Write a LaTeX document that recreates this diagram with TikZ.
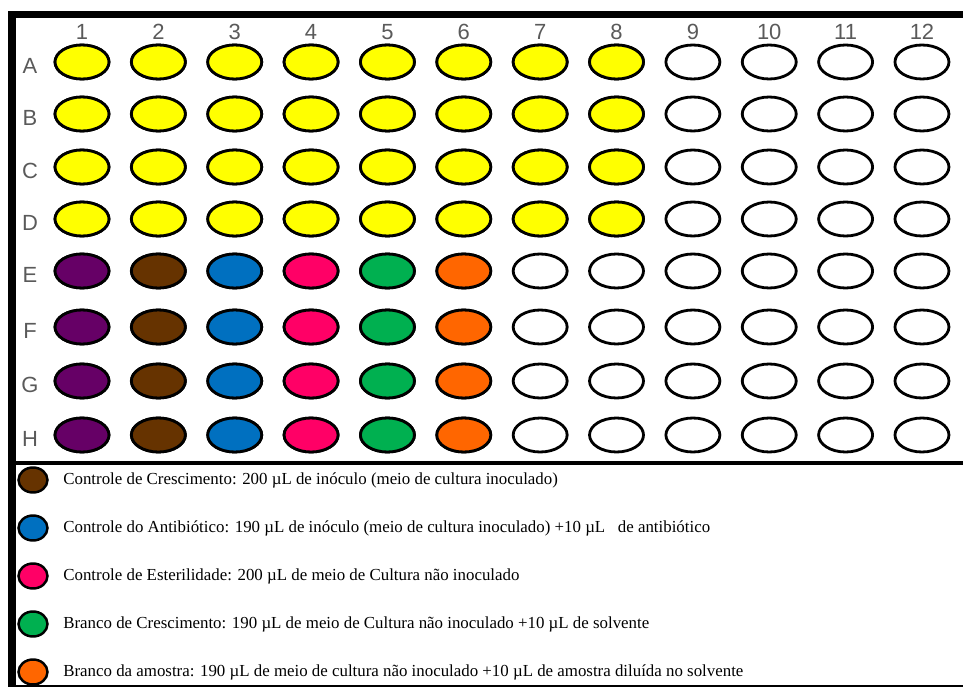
\documentclass[tikz,border=0pt]{standalone}
\usepackage{fontspec}
\setmainfont{Liberation Serif}
\setsansfont{Liberation Sans}
\usepackage{tikz}
\usetikzlibrary{shapes.geometric}
\usepackage{xcolor}
\definecolor{wyellow}{RGB}{255,255,0}
\definecolor{wpurple}{RGB}{102,0,102}
\definecolor{wbrown}{RGB}{102,51,0}
\definecolor{wblue}{RGB}{0,112,192}
\definecolor{wpink}{RGB}{255,0,102}
\definecolor{wgreen}{RGB}{0,176,80}
\definecolor{worange}{RGB}{255,102,0}
\definecolor{labgray}{RGB}{90,90,90}

\begin{document}
\begin{tikzpicture}[
    x=0.02cm,y=-0.02cm,
    well/.style={ellipse,draw=black,line width=1.6pt,fill=white,minimum width=1.08cm,minimum height=0.68cm,inner sep=0},
    keywell/.style={ellipse,draw=black,line width=1.4pt,minimum width=0.58cm,minimum height=0.5cm,inner sep=0},
    plate/.style={font=\sffamily\fontsize{12.5}{12.5}\selectfont,text=labgray},
    keytext/.style={anchor=west,font=\fontsize{9.6}{10}\selectfont,inner sep=0},
  ]
    \useasboundingbox (0,0) rectangle (963,689);
    \fill[black] (8,11) rectangle (963,18);
    \fill[black] (8,11) rectangle (16,687);
    \draw[line width=1.2pt] (16,686) -- (963,686);
    \draw[line width=1.8pt] (16,463) -- (963,463);
    \foreach \c in {1,...,12}
      \node[plate] (col\c) at ({82+76.36*(\c-1)},32) {\c};
    \foreach \r/\y in {A/62,B/114,C/167,D/219,E/271,F/327,G/381,H/435} {
      \node[plate] (row\r) at (30,\y+4) {\r};
      \foreach \c in {1,...,12}
        \node[well] (w\r\c) at ({82+76.36*(\c-1)},\y) {};
    }
    \foreach \r in {A,B,C,D}
      \foreach \c in {1,...,8}
        \node[well,fill=wyellow] at (w\r\c) {};
    \foreach \r in {E,F,G,H}
      \foreach \c/\col in {1/wpurple,2/wbrown,3/wblue,4/wpink,5/wgreen,6/worange}
        \node[well,fill=\col] at (w\r\c) {};
    \foreach \i/\col/\txt in {
        1/wbrown/{Controle de Crescimento: 200 µL de inóculo (meio de cultura inoculado)},
        2/wblue/{Controle do Antibiótico: 190 µL de inóculo (meio de cultura inoculado) +10 µL \enspace de antibiótico},
        3/wpink/{Controle de Esterilidade: 200 µL de meio de Cultura não inoculado},
        4/wgreen/{Branco de Crescimento: 190 µL de meio de Cultura não inoculado +10 µL de solvente},
        5/worange/{Branco da amostra: 190 µL de meio de cultura não inoculado +10 µL de amostra diluída no solvente}} {
      \node[keywell,fill=\col] (key\i) at (33,{480+48*(\i-1)}) {};
      \node[keytext] (keytxt\i) at (63,{480+48*(\i-1)}) {\txt};
    }
  \end{tikzpicture}
\end{document}
